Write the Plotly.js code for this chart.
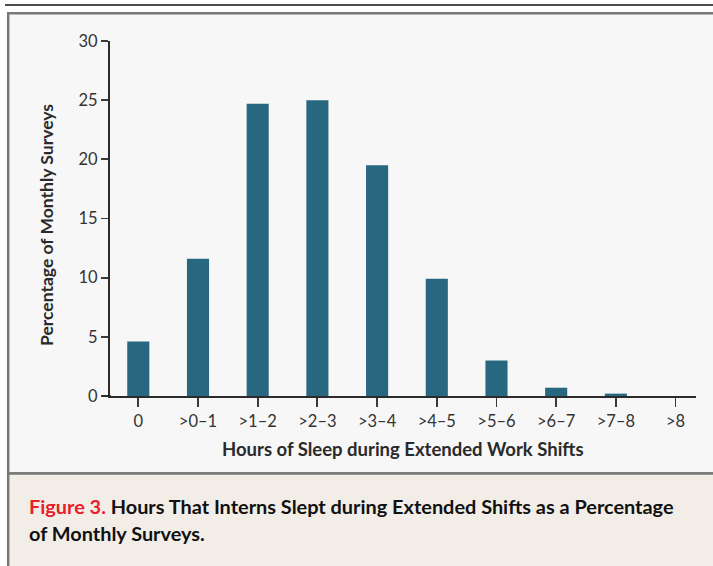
<!DOCTYPE html>
<html>
<head>
<meta charset="utf-8">
<script src="https://cdn.plot.ly/plotly-3.0.1.min.js"></script>
<style>html,body{margin:0;padding:0;background:#fff;}#chart{width:713px;height:566px;}</style>
</head>
<body>
<div id="chart"></div>
<script>
const categories = ["0", ">0\u20131", ">1\u20132", ">2\u20133", ">3\u20134", ">4\u20135", ">5\u20136", ">6\u20137", ">7\u20138", ">8"];
const percentages = [4.6, 11.6, 24.7, 25.0, 19.5, 9.9, 3.0, 0.7, 0.2, 0.0];
const yTickValues = [0, 5, 10, 15, 20, 25, 30];

const W = 713, H = 566;
const L = 110, R = 17, T = 41, B = 170;
const PW = W - L - R, PH = H - T - B;
const px = v => (v - L) / PW;
const py = v => (H - B - v) / PH;

const FONT = "Lato, 'Open Sans', sans-serif";

const trace = {
  type: "bar",
  x: categories.map((c, i) => i),
  y: percentages,
  width: 0.37,
  marker: {color: "#27677f", line: {width: 0}},
  hoverinfo: "x+y"
};

const layout = {
  width: W, height: H,
  margin: {l: L, r: R, t: T, b: B, pad: 0},
  paper_bgcolor: "#ffffff",
  plot_bgcolor: "rgba(0,0,0,0)",
  showlegend: false,
  xaxis: {
    range: [-0.474, 9.342],
    tickmode: "array",
    tickvals: categories.map((c, i) => i),
    ticktext: categories,
    ticks: "outside", ticklen: 9, tickwidth: 1.8, tickcolor: "#3a3a3a",
    showline: true, linecolor: "#2b2b2b", linewidth: 2,
    showgrid: false, zeroline: false,
    tickfont: {family: FONT, size: 16.5, color: "#333"},
    fixedrange: true
  },
  yaxis: {
    range: [0, 30],
    tickmode: "array",
    tickvals: yTickValues,
    ticktext: yTickValues.map(String),
    ticks: "outside", ticklen: 7, tickwidth: 1.8, tickcolor: "#3a3a3a",
    showline: true, linecolor: "#2b2b2b", linewidth: 2,
    showgrid: false, zeroline: false,
    tickfont: {family: FONT, size: 16.5, color: "#333"},
    fixedrange: true
  },
  shapes: [
    {type: "line", xref: "paper", yref: "paper", x0: px(5), x1: px(716), y0: py(5), y1: py(5),
     line: {color: "#111", width: 1.6}, layer: "below"},
    {type: "rect", xref: "paper", yref: "paper", x0: px(8.2), x1: px(725), y0: py(13.2), y1: py(473.5),
     fillcolor: "#f7f7f7", line: {color: "#787878", width: 2.5}, layer: "below"},
    {type: "rect", xref: "paper", yref: "paper", x0: px(8.2), x1: px(725), y0: py(473.5), y1: py(590),
     fillcolor: "#f2ede7", line: {color: "#787878", width: 2.5}, layer: "below"},
    {type: "line", xref: "paper", yref: "paper", x0: px(102), x1: px(111), y0: py(396), y1: py(396),
     line: {color: "#2b2b2b", width: 2}, layer: "above"}
  ],
  annotations: [
    {xref: "paper", yref: "paper", x: px(46), y: py(225), text: "Percentage of Monthly Surveys",
     textangle: -90, showarrow: false, xanchor: "center", yanchor: "middle",
     font: {family: FONT, size: 17.5, color: "#2a2a2a", weight: 700}},
    {xref: "paper", yref: "paper", x: px(403), y: py(449), text: "Hours of Sleep during Extended Work Shifts",
     showarrow: false, xanchor: "center", yanchor: "middle",
     font: {family: FONT, size: 18.5, color: "#2a2a2a", weight: 700}},
    {xref: "paper", yref: "paper", x: px(27), y: py(506), text: "<span style='color:#e8202a'>Figure 3.</span> Hours That Interns Slept during Extended Shifts as a Percentage",
     showarrow: false, xanchor: "left", yanchor: "middle", align: "left",
     font: {family: FONT, size: 19.9, color: "#111", weight: 700}},
    {xref: "paper", yref: "paper", x: px(27), y: py(533), text: "of Monthly Surveys.",
     showarrow: false, xanchor: "left", yanchor: "middle", align: "left",
     font: {family: FONT, size: 19.9, color: "#111", weight: 700}}
  ]
};

Plotly.newPlot("chart", [trace], layout, {displayModeBar: false, staticPlot: true});
</script>
</body>
</html>
